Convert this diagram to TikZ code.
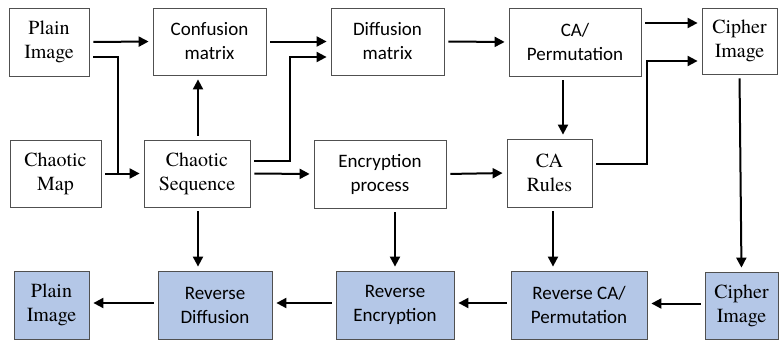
\documentclass[tikz,border=0pt]{standalone}
\usepackage{fontspec}
\newfontfamily\serffont{TeX Gyre Termes}
\newfontfamily\calfont{Carlito}
\usetikzlibrary{arrows.meta}
\definecolor{boxblue}{HTML}{B4C7E7}
\definecolor{boxline}{HTML}{505050}
\begin{document}
\begin{tikzpicture}[x=1pt,y=-1pt,
  box/.style={draw=boxline,line width=0.8pt,align=center,inner sep=0pt,
    font=\fontsize{20}{24}\serffont},
  sbox/.style={box,font=\fontsize{19}{24}\calfont},
  bbox/.style={box,fill=boxblue},
  bsbox/.style={sbox,fill=boxblue},
  arr/.style={line width=2pt,-{Triangle[length=10pt,width=10pt]},shorten <=4pt,shorten >=4pt},
  ln/.style={line width=2pt,shorten <=4pt}]
\useasboundingbox (0,0) rectangle (779,340);
% top row
\node[box,minimum width=80pt,minimum height=68pt] (pi) at (49,42) {Plain\\Image};
\node[sbox,minimum width=113pt,minimum height=67pt] (conf) at (209.5,41.5) {Confusion\\matrix};
\node[sbox,minimum width=113pt,minimum height=67pt] (diff) at (387.5,41.5) {Diffusion\\matrix};
\node[sbox,minimum width=132pt,minimum height=68pt] (caperm) at (575,42) {CA/\\Permutation};
\node[box,minimum width=75pt,minimum height=66pt] (ci) at (739.5,41) {Cipher\\Image};
% middle row
\node[box,minimum width=91pt,minimum height=67pt] (cm) at (55.5,173.5) {Chaotic\\Map};
\node[box,minimum width=106pt,minimum height=67pt] (cs) at (197,173.5) {Chaotic\\Sequence};
\node[sbox,minimum width=132pt,minimum height=68pt] (ep) at (380,174) {Encryption\\process};
\node[box,minimum width=85pt,minimum height=68pt] (car) at (549.5,173) {CA\\Rules};
% bottom row
\node[bbox,minimum width=75pt,minimum height=68pt] (pi2) at (51.5,305) {Plain\\Image};
\node[bsbox,minimum width=114pt,minimum height=68pt] (rd) at (215,305) {Reverse\\Diffusion};
\node[bsbox,minimum width=118pt,minimum height=68pt] (re) at (395,305) {Reverse\\Encryption};
\node[bsbox,minimum width=136pt,minimum height=68pt] (rca) at (579,305) {Reverse CA/\\Permutation};
\node[bbox,minimum width=73pt,minimum height=67pt] (ci2) at (741.5,305.5) {Cipher\\Image};
\coordinate (j1) at (118,173.5);
% connectors
\draw[arr] (pi.east) -- (conf.west);
\draw[ln] ([yshift=-15pt]pi.east) -| (j1);
\draw[arr] (cm.east) -- (cs.west);
\draw[arr] ([xshift=1pt]cs.north) -- ([xshift=1pt]cs.north |- conf.south);
\draw[arr] (conf.east) -- (diff.west);
\draw[arr] ([yshift=12.5pt]cs.east) -- (290,161) |- ([yshift=-15.5pt]diff.west);
\draw[arr] (diff.east) -- (caperm.west);
\draw[arr] ([yshift=19pt]caperm.east) -- ([yshift=19pt]caperm.east -| ci.west);
\draw[arr] ([yshift=9pt]car.east) -- (647,164) |- ([yshift=-20pt]ci.west);
\draw[arr] ([xshift=-12pt]caperm.south) -- ([xshift=-12pt]caperm.south |- car.north);
\draw[arr] (cs.east) -- (ep.west);
\draw[arr] (ep.east) -- (car.west);
\draw[arr] (ci.south) -- (ci2.north);
\draw[arr] ([xshift=1pt]cs.south) -- ([xshift=1pt]cs.south |- rd.north);
\draw[arr] (re.north |- ep.south) -- (re.north);
\draw[arr] ([xshift=3.5pt]car.south) -- ([xshift=3.5pt]car.south |- rca.north);
\draw[arr] ([yshift=2pt]ci2.west) -- ([yshift=2pt]ci2.west -| rca.east);
\draw[arr] ([yshift=2pt]rca.west) -- ([yshift=2pt]rca.west -| re.east);
\draw[arr] ([yshift=2pt]re.west) -- ([yshift=2pt]re.west -| rd.east);
\draw[arr] ([yshift=2pt]rd.west) -- ([yshift=2pt]rd.west -| pi2.east);
\end{tikzpicture}
\end{document}
